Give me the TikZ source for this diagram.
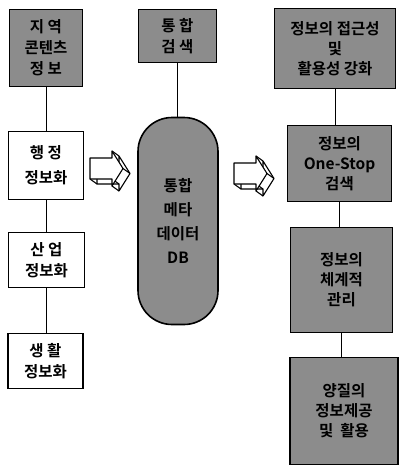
\documentclass[tikz,border=0pt]{standalone}
\usepackage{fontspec}
\setmainfont{Noto Sans CJK KR}[BoldFont={Noto Sans CJK KR Bold}]
\usetikzlibrary{positioning}

\tikzset{
  box/.style={draw,line width=1.6pt,align=center,inner sep=2pt,
    font=\bfseries\fontsize{15.5}{21}\selectfont},
  graybox/.style={box,fill=black!45},
  whitebox/.style={box,fill=white},
  link/.style={line width=0.9pt},
  arrowline/.style={line width=1.1pt,line join=round},
  pics/blockarrow/.style={code={
    \draw[arrowline,fill=white,shift={(7,5)}] (0,0) -- (22,0) -- (22,-7)
      -- (33,10.5) -- (22,28) -- (22,21) -- (0,21) -- cycle;
    \foreach \px/\py in {0/21,22/21,22/28,33/10.5,22/-7}
      \draw[arrowline] (\px,\py) -- ++(7,5);
    \draw[arrowline,fill=white] (0,0) -- (22,0) -- (22,-7)
      -- (33,10.5) -- (22,28) -- (22,21) -- (0,21) -- cycle;
  }}
}

\begin{document}
\begin{tikzpicture}[x=1pt,y=-1pt]
  \useasboundingbox (0,0) rectangle (400,466);
  % left column
  \node[graybox,minimum width=73pt,minimum height=77pt] (region) at (46,48)
    {지 역\\콘텐츠\\정 보};
  \node[whitebox,minimum width=75pt,minimum height=68pt] (admin) at (46,165.5)
    {행 정\\[4pt]정보화};
  \node[whitebox,minimum width=76pt,minimum height=55pt] (industry) at (46.5,260)
    {산 업\\정보화};
  \node[whitebox,minimum width=75pt,minimum height=55pt] (life) at (45.5,361)
    {생 활\\정보화};
  % middle column
  \node[graybox,minimum width=78pt,minimum height=53pt] (search) at (177.5,36)
    {통 합\\검 색};
  \node[graybox,rounded corners=34pt,minimum width=80pt,minimum height=207pt]
    (metadb) at (178,221) {통합\\[3pt]메타\\[3pt]데이터\\[3pt]DB};
  % right column
  \node[graybox,minimum width=121pt,minimum height=80pt] (access) at (335,48.5)
    {정보의 접근성\\[-1pt]및\\[-1pt]활용성 강화};
  \node[graybox,minimum width=104pt,minimum height=76pt] (onestop) at (339.5,163.5)
    {정보의\\[-1pt]One-Stop\\[-1pt]검색};
  \node[graybox,minimum width=102pt,minimum height=105pt] (manage) at (341.5,280)
    {정보의\\[-1pt]체계적\\[-1pt]관리};
  \node[graybox,minimum width=108pt,minimum height=107pt] (quality) at (344,411)
    {양질의\\[-1pt]정보제공\\[-1pt]및\ \ 활용};
  % connectors
  \draw[link] (region.south) -- (region.south |- admin.north);
  \draw[link] (admin.south) -- (admin.south |- industry.north);
  \draw[link] (industry.south) -- (industry.south |- life.north);
  \draw[link] (search.south) -- (search.south |- metadb.north);
  \draw[link] (access.south) -- (access.south |- onestop.north);
  \draw[link] (onestop.south) -- (onestop.south |- manage.north);
  \draw[link] (manage.south) -- (manage.south |- quality.north);
  % block arrows
  \pic at (90,158) {blockarrow};
  \pic at (234,163) {blockarrow};
\end{tikzpicture}
\end{document}
